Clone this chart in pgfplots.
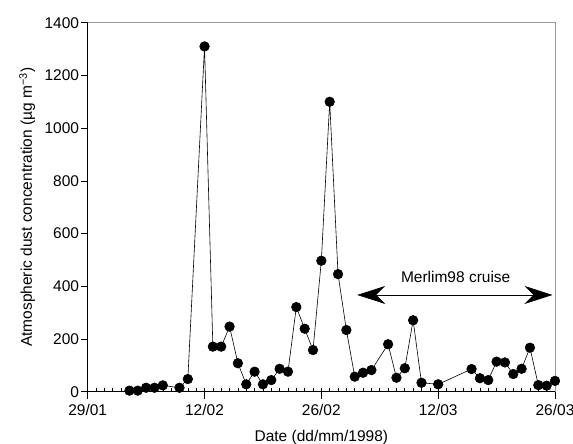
\documentclass[border=0pt]{standalone}
\usepackage{pgfplots}
\pgfplotsset{compat=1.18}
\usepackage{fontspec}
\setmainfont{Liberation Sans}
\usetikzlibrary{arrows.meta}
\begin{document}
\fontsize{15.5}{18}\selectfont
\begin{tikzpicture}[font=\fontsize{15.5}{18}\selectfont]
\useasboundingbox (-87.7pt,-52.3pt) rectangle (485.3pt,391.7pt);
\begin{axis}[
  at={(0,0)}, anchor=south west,
  scale only axis,
  width=467.3pt, height=369pt,
  xmin=0, xmax=56, ymin=0, ymax=1400,
  axis lines=left,
  axis line style={-, black, line width=0.8pt},
  xtick={0,14,28,42,56},
  xticklabels={29/01,12/02,26/02,12/03,26/03},
  minor x tick num=13,
  ytick={0,200,...,1400},
  tick align=outside,
  major tick length=7pt,
  minor tick length=4pt,
  minor x tick style={yshift=4pt},
  tick style={black, line width=0.6pt},
  extra x ticks={0,14,28,42,56},
  extra x tick labels={},
  every extra x tick/.style={major x tick style={yshift=4pt}},
  /pgf/number format/1000 sep={},
  /pgf/number format/assume math mode=true,
  tick label style={font=\fontsize{15.5}{18}\selectfont},
  yticklabel style={inner xsep=1.5pt},
  label style={font=\fontsize{15.5}{18}\selectfont},
  xlabel={Date (dd/mm/1998)},
  xlabel style={at={(axis description cs:0.5,-0.1339)}, anchor=base, inner sep=0pt},
  ylabel={Atmospheric dust concentration (µg m\textsuperscript{−3})},
  ylabel style={at={(axis description cs:-0.1192,0.5)}, anchor=base, inner sep=0pt},
  clip=false,
]
\addplot[black, line width=0.6pt, mark=*, mark size=4.8pt, mark options={fill=black, solid}] coordinates {
(5,4) (6,4) (7,15) (8,15) (9,24) (11,15) (12,48) (14,1310) (15,171) (16,171)
(17,247) (18,108) (19,28) (20,76) (21,28) (22,44) (23,87) (24,76) (25,321)
(26,239) (27,158) (28,497) (29,1100) (30,446) (31,234) (32,57) (33,72) (34,82)
(36,180) (37,53) (38,89) (39,271) (40,34) (42,28) (46,86) (47,51) (48,44)
(49,114) (50,111) (51,67) (52,87) (53,167) (54,25) (55,23) (56,41)
};
\draw[gray!80, line width=1pt] (rel axis cs:0,1) -- (rel axis cs:1,1) -- (rel axis cs:1,0);
\draw[black, line width=0.7pt, {Stealth[length=28pt, width=18pt, inset=9pt]}-{Stealth[length=28pt, width=18pt, inset=9pt]}] (axis cs:32.3,367) -- (axis cs:55.7,367);
\node[font=\fontsize{15.5}{18}\selectfont] at (axis cs:44.1,436) {Merlim98 cruise};
\end{axis}
\end{tikzpicture}
\end{document}
